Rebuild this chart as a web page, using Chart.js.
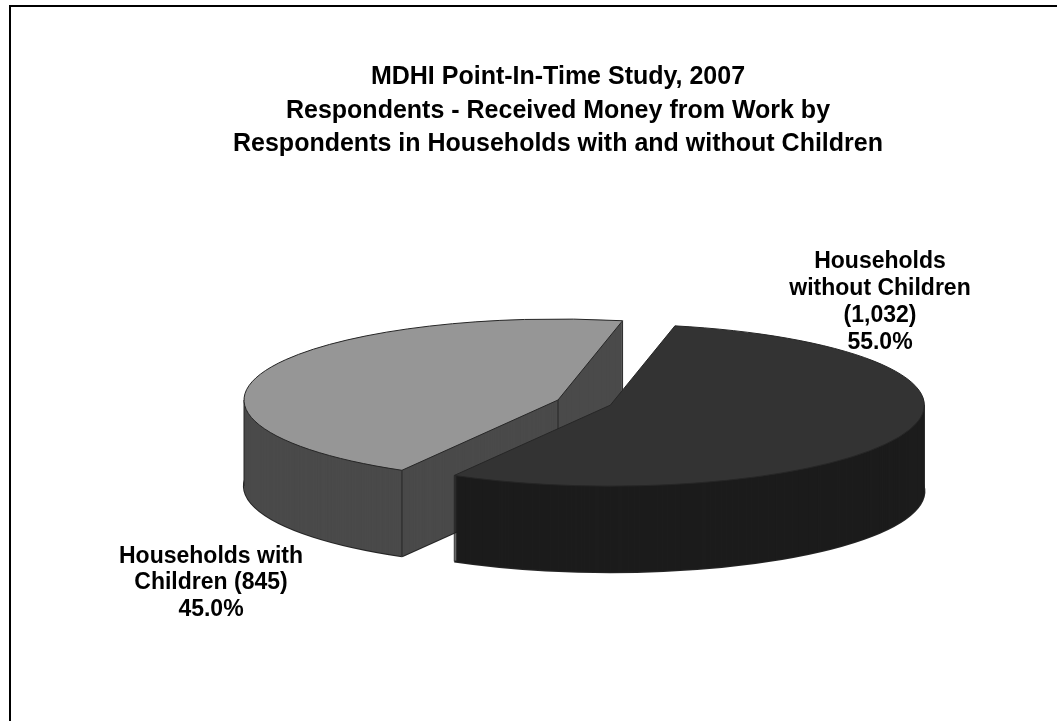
<!DOCTYPE html>
<html>
<head>
<meta charset="utf-8">
<script src="https://cdn.jsdelivr.net/npm/chart.js@4/dist/chart.umd.min.js"></script>
<style>
  html, body { margin: 0; padding: 0; background: #fff; overflow: hidden; }
  .frame { position: absolute; left: 9px; top: 5px; width: 1100px; height: 800px; border: 2px solid #000; }
  #chart { position: absolute; left: 0; top: 0; }
</style>
</head>
<body>
<div class="frame"></div>
<canvas id="chart" width="1057" height="721"></canvas>
<script>
const categories = ['Households with Children', 'Households without Children'];
const respondents = [845, 1032];
const titleLines = [
  'MDHI Point-In-Time Study, 2007',
  'Respondents - Received Money from Work by',
  'Respondents in Households with and without Children'
];

const topColors = ['#969696', '#333333'];
const sideColors = ['#4a4a4a', '#1c1c1c'];
const FONT = "'Liberation Sans', Arial, sans-serif";

const TAU = Math.PI * 2;
const midAngle = arc => (arc.startAngle + arc.endAngle) / 2;

// flattens the pie around its centre and pushes the slice out along its middle
function squash(ctx, arc, tilt, ox, oy) {
  ctx.translate(arc.x, arc.y);
  ctx.scale(1, tilt);
  ctx.translate(-arc.x + ox, -arc.y + oy);
}

const pie3d = {
  id: 'pie3d',
  beforeDatasetsDraw(chart, args, opts) {
    const ctx = chart.ctx;
    const arcs = chart.getDatasetMeta(0).data;
    const { tilt, depth, explode, sideColors, edgeColor } = opts;

    // back slices first
    const order = arcs.map((a, i) => i)
      .sort((a, b) => Math.sin(midAngle(arcs[a])) - Math.sin(midAngle(arcs[b])));

    order.forEach(i => {
      const arc = arcs[i];
      const base = arc.options;
      const m = midAngle(arc);
      const ox = Math.cos(m) * explode[i], oy = Math.sin(m) * explode[i];
      const r = arc.outerRadius;
      const cx = arc.x + ox, cy = arc.y + oy * tilt;
      const s = arc.startAngle, e = arc.endAngle;
      const px = a => cx + Math.cos(a) * r;
      const py = a => cy + Math.sin(a) * r * tilt;

      // which cut faces turn towards the viewer
      const frontStart = Math.cos(s) < 0;
      const frontEnd = Math.cos(e) > 0;

      ctx.save();
      ctx.strokeStyle = edgeColor;

      // rim along the bottom of the wall
      ctx.lineWidth = 2;
      ctx.beginPath();
      ctx.ellipse(cx, cy + depth, r, r * tilt, 0, s, e);
      ctx.stroke();
      if (frontStart) {
        ctx.beginPath();
        ctx.moveTo(cx, cy + depth);
        ctx.lineTo(px(s), py(s) + depth);
        ctx.stroke();
      }
      if (frontEnd) {
        ctx.beginPath();
        ctx.moveTo(cx, cy + depth);
        ctx.lineTo(px(e), py(e) + depth);
        ctx.stroke();
      }

      // wall: the slice repeated downwards
      arc.options = Object.assign({}, base, { backgroundColor: sideColors[i], borderWidth: 0 });
      for (let dy = depth; dy > 0; dy--) {
        ctx.save();
        ctx.translate(0, dy);
        squash(ctx, arc, tilt, ox, oy);
        arc.draw(ctx);
        ctx.restore();
      }

      // vertical edges that face the viewer
      const inSlice = a => {
        while (a < s) a += TAU;
        return a <= e;
      };
      const edges = [];
      if (frontStart || Math.sin(s) > 0) edges.push([px(s), py(s)]);
      if (frontEnd || Math.sin(e) > 0) edges.push([px(e), py(e)]);
      if (frontStart || frontEnd) edges.push([cx, cy]);
      [0, Math.PI].forEach(a => { if (inSlice(a)) edges.push([px(a), py(a)]); });
      ctx.lineWidth = 1;
      edges.forEach(([x, y]) => {
        ctx.beginPath();
        ctx.moveTo(x, y);
        ctx.lineTo(x, y + depth);
        ctx.stroke();
      });

      // top face
      arc.options = base;
      ctx.save();
      squash(ctx, arc, tilt, ox, oy);
      arc.draw(ctx);
      ctx.restore();
      ctx.beginPath();
      ctx.moveTo(cx, cy);
      ctx.ellipse(cx, cy, r, r * tilt, 0, s, e);
      ctx.closePath();
      ctx.stroke();
      ctx.restore();
    });
    return false;
  }
};

function wrap(ctx, text, maxWidth) {
  const lines = [];
  let line = '';
  text.split(' ').forEach(word => {
    const test = line ? line + ' ' + word : word;
    if (line && ctx.measureText(test).width > maxWidth) {
      lines.push(line);
      line = word;
    } else {
      line = test;
    }
  });
  if (line) lines.push(line);
  return lines;
}

const sliceLabels = {
  id: 'sliceLabels',
  afterDraw(chart, args, opts) {
    const ctx = chart.ctx;
    const values = chart.data.datasets[0].data;
    const total = values.reduce((a, b) => a + b, 0);
    ctx.save();
    ctx.font = `bold ${opts.size}px ${FONT}`;
    ctx.fillStyle = '#000';
    ctx.textAlign = 'center';
    ctx.textBaseline = 'middle';
    chart.data.labels.forEach((name, i) => {
      const lines = wrap(ctx, `${name} (${values[i].toLocaleString('en-US')})`, opts.maxWidth);
      lines.push((values[i] / total * 100).toFixed(1) + '%');
      const a = opts.anchors[i];
      const y0 = a.y - (lines.length - 1) * opts.lineHeight / 2;
      lines.forEach((t, k) => ctx.fillText(t, a.x, y0 + k * opts.lineHeight));
    });
    ctx.restore();
  }
};

Chart.defaults.font.family = FONT;

new Chart(document.getElementById('chart'), {
  type: 'pie',
  data: {
    labels: categories,
    datasets: [{
      data: respondents,
      backgroundColor: topColors,
      borderWidth: 0
    }]
  },
  options: {
    responsive: false,
    animation: false,
    events: [],
    rotation: 209.8,
    radius: 314,
    layout: { padding: { left: 150, right: 91, top: 0, bottom: 100 } },
    plugins: {
      legend: { display: false },
      tooltip: { enabled: false },
      title: {
        display: true,
        text: titleLines,
        color: '#000',
        font: { size: 25, weight: 'bold', lineHeight: 1.34 },
        padding: { top: 60.5, bottom: 18 }
      },
      pie3d: {
        tilt: 81 / 314,
        depth: 86,
        explode: [0, 56],
        sideColors: sideColors,
        edgeColor: '#262626'
      },
      sliceLabels: {
        size: 23,
        lineHeight: 26.8,
        maxWidth: 195,
        anchors: [{ x: 211, y: 583 }, { x: 880, y: 302 }]
      }
    }
  },
  plugins: [pie3d, sliceLabels]
});
</script>
</body>
</html>
